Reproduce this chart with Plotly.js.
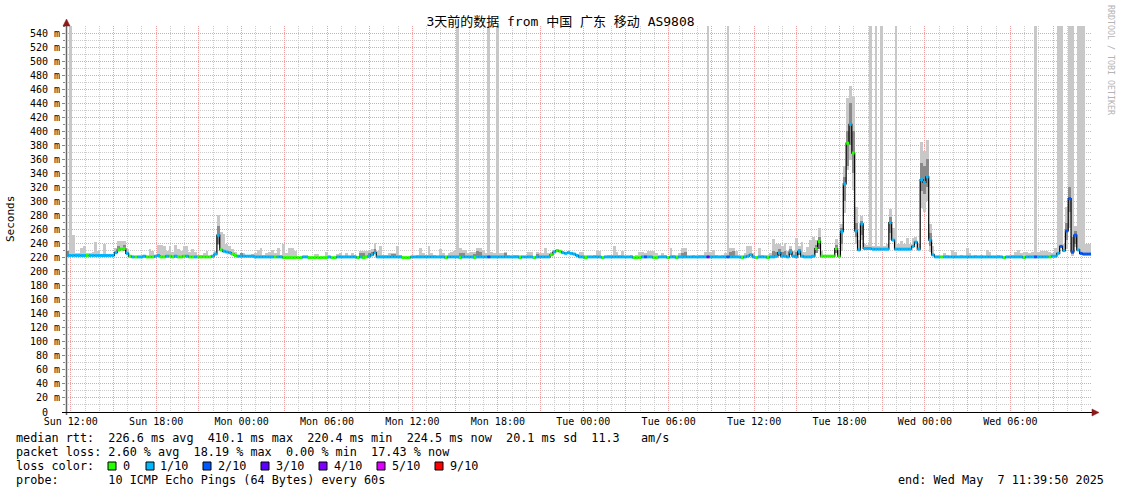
<!DOCTYPE html>
<html><head><meta charset="utf-8">
<script src="https://cdn.plot.ly/plotly-3.0.1.min.js"></script>
<style>html,body{margin:0;padding:0;background:#fff}#chart{width:1121px;height:494px}</style>
</head><body><div id="chart"></div>
<script>
// ---------------- DATA ----------------
const TITLE = '3天前的数据 from 中国 广东 移动 AS9808';
const Y_TITLE = 'Seconds';
const START_MS = Date.UTC(2025, 4, 4, 11, 39, 50);   // Sun May 4 11:39:50
const STEP_MIN = 12;                                   // consolidation step (minutes)

// median rtt (ms) per 12-minute step
const median = [
 223,223,223,223,223,223,223,223,223,223,223,223,223,223,223,223,223,227,231,232,
 233,226,222,221,221,221,221,222,221,221,221,222,223,221,221,222,222,221,222,221,
 221,222,222,221,221,221,221,221,221,221,221,222,225,252,231,229,228,227,225,223,
 222,222,222,222,222,222,221,221,221,221,221,221,221,221,221,221,220,220,220,220,
 220,220,220,221,221,220,220,220,220,220,220,220,221,220,220,221,221,221,221,221,
 221,221,220,221,220,221,222,224,227,221,221,221,221,221,221,221,221,221,220,220,
 220,221,221,221,221,221,221,221,221,221,221,221,221,220,221,221,221,221,220,221,
 221,221,221,220,221,221,221,221,221,221,221,221,221,221,221,221,221,221,221,220,
 221,221,221,221,220,221,221,221,221,221,224,228,230,229,227,226,227,226,225,223,
 221,221,220,221,221,221,221,221,220,221,221,221,221,221,221,221,221,221,221,220,
 220,220,221,221,221,221,220,220,221,221,221,220,221,221,220,221,221,221,221,221,
 221,221,221,221,221,221,221,221,221,221,221,221,221,221,221,221,221,220,221,222,
 224,221,220,221,221,221,220,221,221,222,227,222,222,221,228,222,221,229,222,221,
 221,221,222,233,243,222,222,222,222,222,233,222,257,325,383,410,369,258,231,268,
 233,233,233,232,232,232,232,232,232,270,245,232,232,232,232,232,232,236,242,232,
 331,327,335,245,224,221,221,221,221,221,221,221,221,221,221,221,221,221,221,221,
 221,221,221,221,221,221,221,221,221,220,221,221,221,221,221,221,220,221,221,221,
 221,221,221,221,221,221,222,222,226,236,230,258,304,228,252,231,226,225,225,225
];

// packet loss per step, in tenths (0 = no loss, 1 = 1/10, ...)
const lossTenths = [
 1,1,1,1,1,1,1,0,1,1,1,1,1,1,1,1,1,1,0,0,
 0,1,0,1,0,1,1,1,0,0,0,1,1,0,0,1,0,0,1,0,
 0,0,1,0,0,1,0,0,0,0,0,1,1,1,0,1,1,1,0,0,
 1,1,1,1,1,1,1,1,1,1,1,1,1,0,1,1,0,0,0,0,
 0,0,0,1,1,0,0,0,0,0,0,0,1,0,0,1,1,1,1,1,
 1,1,0,1,0,0,1,1,1,1,1,1,1,1,1,1,1,1,0,0,
 0,1,1,1,1,1,1,1,1,1,1,1,1,0,1,1,1,1,0,1,
 1,1,1,0,1,1,1,1,2,1,1,1,1,1,1,1,1,1,1,0,
 1,1,1,1,0,1,1,1,1,1,0,1,0,0,1,1,1,1,1,1,
 1,1,0,1,1,1,1,1,0,1,1,1,1,1,1,1,1,1,1,0,
 0,0,1,2,1,1,0,0,1,1,1,0,1,1,0,1,1,1,1,1,
 1,1,1,1,1,3,1,1,1,1,1,1,2,1,1,1,1,0,1,1,
 1,1,0,1,1,1,0,1,1,1,1,1,1,1,1,1,1,1,1,1,
 1,1,1,0,0,0,0,0,0,0,0,0,1,1,0,1,0,1,1,1,
 1,1,1,1,1,1,1,1,1,1,1,1,1,1,1,1,1,1,1,1,
 1,1,1,1,1,1,1,0,1,1,1,1,1,1,1,1,1,1,1,1,
 1,1,1,1,1,1,1,1,1,0,1,1,1,1,1,1,0,1,1,1,
 2,1,1,1,1,0,1,1,1,2,1,2,2,2,2,1,2,2,2,2
];

// smoke: highest ping per step (ms)
const smokeMax = [
 230,550,252,226,226,233,236,226,226,228,242,230,225,239,225,225,225,233,244,243,
 244,232,224,221,221,221,221,222,221,232,230,222,238,238,236,230,236,228,238,232,
 230,236,236,228,232,228,224,224,226,230,221,222,230,280,256,253,240,237,232,228,
 224,226,226,224,222,225,226,231,233,224,226,228,231,226,233,224,239,226,233,233,
 230,222,220,221,221,220,220,225,225,220,220,228,221,220,220,225,226,221,226,221,
 227,224,222,229,229,229,229,232,241,229,236,224,224,226,226,226,236,224,220,220,
 220,221,221,224,233,226,224,237,226,224,221,232,226,224,226,228,230,550,234,231,
 231,226,228,228,234,234,231,226,550,228,226,550,226,226,228,224,221,224,224,224,
 222,221,228,228,220,228,226,226,234,226,228,230,232,231,229,228,229,228,227,225,
 228,228,224,221,221,223,229,230,220,221,224,224,236,228,224,230,221,221,223,220,
 224,228,228,226,230,230,230,226,221,226,224,220,233,224,224,226,233,233,221,221,
 224,221,224,224,228,550,228,231,224,221,224,226,550,234,234,230,221,224,226,237,
 237,226,220,233,224,221,224,226,246,240,240,236,241,230,236,230,248,236,242,228,
 235,245,250,245,262,230,222,222,224,222,247,230,268,350,447,464,449,292,245,279,
 240,238,550,236,550,236,550,236,240,289,262,550,240,244,240,248,240,248,250,240,
 385,372,388,268,236,222,221,221,227,224,221,231,228,221,224,221,233,226,221,224,
 221,224,221,231,228,221,221,223,221,220,221,221,224,228,231,226,228,228,226,228,
 550,228,230,230,230,228,226,233,550,550,240,292,550,550,265,550,550,550,239,239
];

// smoke below the median (lowest ping) where it is visible
const lowSteps = [53,272,273,274,275,276,277,279,289,300,301,302,303,351,352,353,354];
const lowPing  = [238,230,283,345,359,316,240,245,245,290,285,300,228,232,262,222,235];

// denser inner smoke band
const darkSteps = [0,18,20,53,61,103,104,106,107,108,114,115,138,139,143,144,145,154,165,216,217,233,234,248,249,250,251,252,254,256,257,263,264,270,272,273,274,275,276,277,279,289,300,301,302,303,351,352,353,354];
const darkLow   = [223,229,229,240,222,221,221,222,224,226,221,221,221,221,221,221,221,221,221,221,221,221,221,221,222,222,222,222,224,221,224,226,232,226,240,300,350,380,340,250,252,255,315,310,320,236,245,285,225,240];
const darkHigh  = [230,237,238,265,226,226,226,226,228,232,225,225,226,226,225,230,228,226,225,226,228,228,229,230,228,232,228,230,232,228,232,238,250,238,262,335,400,440,400,270,272,278,355,350,360,255,270,320,250,258];

// axes
const xTickVals = ['2025-05-04 12:00','2025-05-04 15:00','2025-05-04 18:00','2025-05-04 21:00',
 '2025-05-05 00:00','2025-05-05 03:00','2025-05-05 06:00','2025-05-05 09:00','2025-05-05 12:00','2025-05-05 15:00','2025-05-05 18:00','2025-05-05 21:00',
 '2025-05-06 00:00','2025-05-06 03:00','2025-05-06 06:00','2025-05-06 09:00','2025-05-06 12:00','2025-05-06 15:00','2025-05-06 18:00','2025-05-06 21:00',
 '2025-05-07 00:00','2025-05-07 03:00','2025-05-07 06:00','2025-05-07 09:00'];
const xTickText = ['Sun 12:00','','Sun 18:00','','Mon 00:00','','Mon 06:00','','Mon 12:00','','Mon 18:00','',
 'Tue 00:00','','Tue 06:00','','Tue 12:00','','Tue 18:00','','Wed 00:00','','Wed 06:00',''];
const yTickVals = [0,20,40,60,80,100,120,140,160,180,200,220,240,260,280,300,320,340,360,380,400,420,440,460,480,500,520,540];
const yTickText = ['0  ','20 m','40 m','60 m','80 m','100 m','120 m','140 m','160 m','180 m','200 m','220 m','240 m','260 m','280 m','300 m','320 m','340 m','360 m','380 m','400 m','420 m','440 m','460 m','480 m','500 m','520 m','540 m'];

// legend texts
const statLines = [
 'median rtt:  226.6 ms avg  410.1 ms max  220.4 ms min  224.5 ms now  20.1 ms sd  11.3   am/s',
 'packet loss: 2.60 % avg  18.19 % max  0.00 % min  17.43 % now'
];
const lossLegendTitle = 'loss color:';
const lossLevels = [0,1,2,3,4,5,9];
const lossLabels = ['0','1/10','2/10','3/10','4/10','5/10','9/10'];
const probeLine = 'probe:       10 ICMP Echo Pings (64 Bytes) every 60s';
const endLine = 'end: Wed May  7 11:39:50 2025';
const watermark = 'RRDTOOL / TOBI OETIKER';

// ---------------- STYLE ----------------
const LOSS_COLORS = {0:'#26ff00',1:'#00b8ff',2:'#0059ff',3:'#5e00ff',4:'#7e00ff',5:'#dd00ff',9:'#ff0000'};
const SMOKE_LIGHT = '#c8c8c8', SMOKE_DARK = '#8a8a8a';
const BAND_PX = 3;   // thickness of the loss-coloured median band (px)
const W = 1121, H = 494, ML = 66, MR = 30, MT = 26, MB = 82;
const PW = W - ML - MR, PH = H - MT - MB;
const px2x = px => (px - ML) / PW;
const py2y = py => (H - MB - py) / PH;
const nb = s => s.replace(/ /g, '\u00a0');
const MONO = "'DejaVu Sans Mono', monospace";

// ---------------- BUILD ----------------
const STEP = STEP_MIN * 60000;
const N = median.length;
const tStart = i => START_MS + i * STEP;
const tMid = i => START_MS + (i + 0.5) * STEP;
const lowMap = new Map(lowSteps.map((s, k) => [s, lowPing[k]]));

const lx = [], ly = [], lb = [];
for (let i = 0; i < N; i++) {
  const base = lowMap.has(i) ? lowMap.get(i) : median[i];
  if (smokeMax[i] > base) { lx.push(tMid(i)); lb.push(base); ly.push(smokeMax[i] - base); }
}
const smokeLight = {type:'bar', x:lx, y:ly, base:lb, width:STEP, marker:{color:SMOKE_LIGHT, line:{width:0}}, hoverinfo:'skip'};
const smokeDark = {type:'bar', x:darkSteps.map(tMid), y:darkSteps.map((s,k)=>darkHigh[k]-darkLow[k]), base:darkLow,
  width:STEP, marker:{color:SMOKE_DARK, line:{width:0}}, hoverinfo:'skip'};

const mx = [], my = [];
for (let i = 0; i < N; i++) { mx.push(tStart(i)); my.push(median[i]); }
mx.push(tStart(N)); my.push(median[N-1]);
const medLine = {type:'scatter', mode:'lines', x:mx, y:my, line:{color:'#000', width:1.2, shape:'hv'}, hoverinfo:'skip'};

// loss-coloured median segments, one trace per loss level
const bandTraces = lossLevels.map(lv => {
  const x = [], y = [];
  for (let i = 0; i < N; i++) {
    if (lossTenths[i] !== lv) continue;
    x.push(tStart(i), tStart(i+1), null); y.push(median[i], median[i], null);
  }
  return {type:'scatter', mode:'lines', x, y, line:{color:LOSS_COLORS[lv], width:BAND_PX}, hoverinfo:'skip', connectgaps:false};
}).filter(t => t.x.length);

// annotations
const ann = [];
const txt = (s, px, py, extra) => ann.push(Object.assign({text:nb(s), x:px2x(px), y:py2y(py), xref:'paper', yref:'paper',
  xanchor:'left', yanchor:'middle', showarrow:false, borderpad:0, borderwidth:0,
  font:{family:MONO, size:11.8, color:'#000'}}, extra || {}));
txt(statLines[0], 16, 438);
txt(statLines[1], 16, 452);
txt(lossLegendTitle, 16, 466);
txt(probeLine, 16, 480);
txt(endLine, 1104, 480, {xanchor:'right'});
const sqX = [108,146,203,261,319,377,435];
const lbX = [123,160,218,276,334,392,450];
const shapes = [];
lossLevels.forEach((lv, k) => {
  shapes.push({type:'rect', xref:'paper', yref:'paper', x0:px2x(sqX[k]), x1:px2x(sqX[k]+8), y0:py2y(470), y1:py2y(462),
    fillcolor:LOSS_COLORS[lv], line:{color:'#000', width:1}});
  txt(lossLabels[k], lbX[k], 466);
});
ann.push({text:Y_TITLE, x:px2x(10), y:py2y(219), xref:'paper', yref:'paper', xanchor:'center', yanchor:'middle',
  textangle:-90, showarrow:false, borderpad:0, font:{family:MONO, size:11, color:'#000'}});
ann.push({text:nb(watermark), x:px2x(1111), y:py2y(60), xref:'paper', yref:'paper', xanchor:'center', yanchor:'middle',
  textangle:90, showarrow:false, borderpad:0, font:{family:MONO, size:8.3, color:'#b4b4b4'}});

// axes lines + arrows
shapes.push({type:'line', xref:'paper', yref:'paper', x0:px2x(66.5), x1:px2x(66.5), y0:py2y(415), y1:py2y(24), line:{color:'#666', width:1.5}, layer:'above'});
shapes.push({type:'line', xref:'paper', yref:'paper', x0:px2x(62), x1:px2x(1094), y0:py2y(412.5), y1:py2y(412.5), line:{color:'#000', width:1}, layer:'above'});
shapes.push({type:'path', xref:'paper', yref:'paper', layer:'above', fillcolor:'#8b1a1a', line:{color:'#8b1a1a', width:0.5},
  path:`M${px2x(63)},${py2y(26)} L${px2x(70)},${py2y(26)} L${px2x(66.5)},${py2y(19)} Z`});
shapes.push({type:'path', xref:'paper', yref:'paper', layer:'above', fillcolor:'#8b1a1a', line:{color:'#8b1a1a', width:0.5},
  path:`M${px2x(1092)},${py2y(409)} L${px2x(1092)},${py2y(416)} L${px2x(1099)},${py2y(412.5)} Z`});

const layout = {
  width:W, height:H, margin:{l:ML, r:MR, t:MT, b:MB, pad:0},
  paper_bgcolor:'#fff', plot_bgcolor:'#fff', showlegend:false,
  barmode:'overlay', bargap:0,
  font:{family:MONO, size:10, color:'#000'},
  title:{text:TITLE, font:{family:"'DejaVu Sans Mono','Noto Sans CJK SC',monospace", size:13, color:'#000'},
    x:0.5, xref:'container', xanchor:'center', y:1-21/H, yref:'container', yanchor:'middle'},
  xaxis:{type:'date', range:[START_MS, START_MS + N*STEP], tickmode:'array', tickvals:xTickVals, ticktext:xTickText,
    showgrid:true, gridcolor:'#f0a0a0', griddash:'1px,1px', gridwidth:1,
    minor:{tickmode:'linear', tick0:'2025-05-04 12:00', dtick:3600000, showgrid:true, gridcolor:'#cccccc', griddash:'1px,1px', gridwidth:1},
    showline:false, zeroline:false, ticks:'', ticklabelstandoff:2, tickfont:{family:MONO, size:10, color:'#000'}, automargin:false, fixedrange:true},
  yaxis:{range:[0,550], tickmode:'array', tickvals:yTickVals, ticktext:yTickText.map(nb),
    showgrid:true, gridcolor:'#f0a0a0', griddash:'1px,1px', gridwidth:1,
    minor:{tickmode:'linear', tick0:0, dtick:10, showgrid:true, gridcolor:'#cccccc', griddash:'1px,1px', gridwidth:1, ticks:'outside', ticklen:2, tickcolor:'#888'},
    ticks:'outside', ticklen:3, tickcolor:'#888', tickwidth:1,
    showline:false, zeroline:false, tickfont:{family:MONO, size:10, color:'#000'}, automargin:false, fixedrange:true},
  annotations:ann, shapes:shapes
};

Plotly.newPlot('chart', [smokeLight, smokeDark, medLine].concat(bandTraces), layout, {displayModeBar:false, responsive:false});
</script>
</body></html>
